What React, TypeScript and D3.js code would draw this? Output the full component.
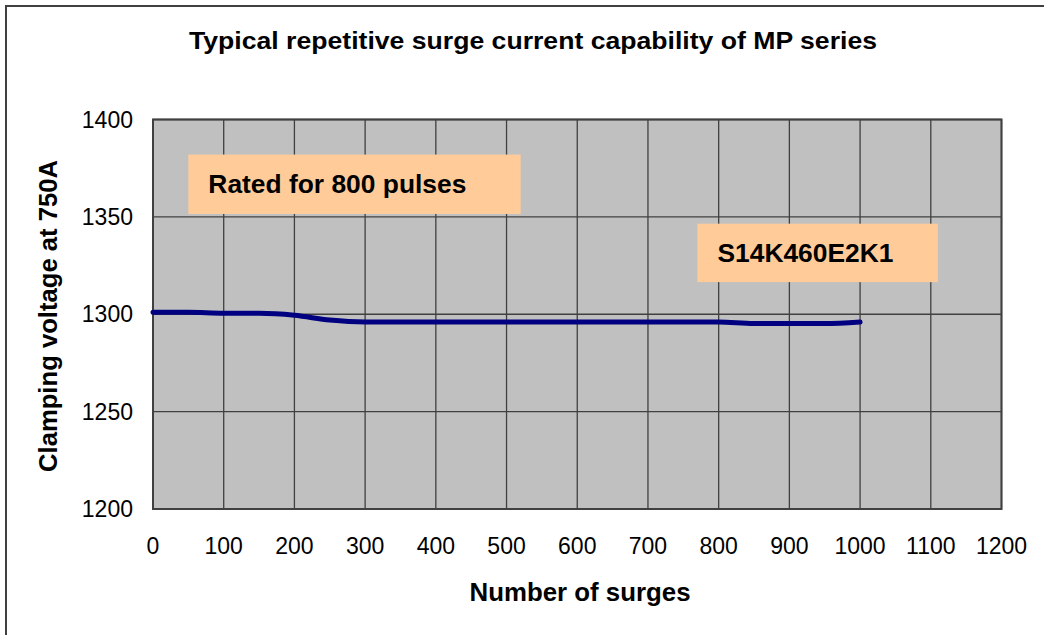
import * as d3 from 'd3';
import React, { useRef, useEffect } from 'react';

// surges vs clamping voltage
const surges = [0, 50, 100, 150, 200, 250, 300, 400, 500, 600, 700, 800, 850, 900, 950, 1000];
const clampVoltage = [1301, 1301, 1300.5, 1300.5, 1299.5, 1297, 1296, 1296, 1296, 1296, 1296, 1296, 1295.2, 1295.2, 1295.2, 1296];

const xTicks = d3.range(0, 1201, 100);
const yTicks = [1200, 1250, 1300, 1350, 1400];

const title = 'Typical repetitive surge current capability of MP series';
const xLabel = 'Number of surges';
const yLabel = 'Clamping voltage at 750A';
const notes = [
  { text: 'Rated for 800 pulses', x0: 50, x1: 520, y0: 1382, y1: 1351.5, len: 258 },
  { text: 'S14K460E2K1', x0: 770, x1: 1110, y0: 1346.5, y1: 1316.5, len: 176 },
];

const W = 1044;
const H = 635;
const plot = { left: 153, top: 119.5, right: 1001.5, bottom: 509 };

const font = 'Arial, "Liberation Sans", sans-serif';

const App = () => {
  const svgRef = useRef<SVGSVGElement>(null);

  useEffect(() => {
    if (!svgRef.current) return;
    const svg = d3.select(svgRef.current);
    svg.selectAll('*').remove();

    const x = d3.scaleLinear().domain([0, 1200]).range([plot.left, plot.right]);
    const y = d3.scaleLinear().domain([1200, 1400]).range([plot.bottom, plot.top]);

    // outer frame
    svg.append('rect')
      .attr('x', 6).attr('y', 6)
      .attr('width', W + 20).attr('height', H + 20)
      .attr('fill', 'white')
      .attr('stroke', '#404040').attr('stroke-width', 2);

    // plot background
    svg.append('rect')
      .attr('x', plot.left).attr('y', plot.top)
      .attr('width', plot.right - plot.left).attr('height', plot.bottom - plot.top)
      .attr('fill', '#c0c0c0');

    // grid
    svg.append('g').selectAll('line').data(xTicks).join('line')
      .attr('x1', d => x(d)).attr('x2', d => x(d))
      .attr('y1', plot.top).attr('y2', plot.bottom)
      .attr('stroke', '#404040').attr('stroke-width', 1.3);
    svg.append('g').selectAll('line').data(yTicks).join('line')
      .attr('x1', plot.left).attr('x2', plot.right)
      .attr('y1', d => y(d)).attr('y2', d => y(d))
      .attr('stroke', '#404040').attr('stroke-width', 1.3);

    svg.append('rect')
      .attr('x', plot.left).attr('y', plot.top)
      .attr('width', plot.right - plot.left).attr('height', plot.bottom - plot.top)
      .attr('fill', 'none')
      .attr('stroke', '#404040').attr('stroke-width', 2);

    // annotation boxes
    const boxes = svg.append('g').selectAll('g').data(notes).join('g');
    boxes.append('rect')
      .attr('x', d => x(d.x0)).attr('y', d => y(d.y0))
      .attr('width', d => x(d.x1) - x(d.x0)).attr('height', d => y(d.y1) - y(d.y0))
      .attr('fill', '#ffcc99');
    boxes.append('text')
      .attr('x', d => x(d.x0) + 20)
      .attr('y', d => (y(d.y0) + y(d.y1)) / 2 + 9)
      .attr('font-family', font).attr('font-weight', 'bold').attr('font-size', 25)
      .attr('textLength', d => d.len).attr('lengthAdjust', 'spacingAndGlyphs')
      .attr('fill', '#000')
      .text(d => d.text);

    // series line
    const line = d3.line<number>()
      .x((_, i) => x(surges[i]))
      .y(d => y(d))
      .curve(d3.curveMonotoneX);
    svg.append('path')
      .datum(clampVoltage)
      .attr('d', line)
      .attr('fill', 'none')
      .attr('stroke', '#000080')
      .attr('stroke-width', 5)
      .attr('stroke-linecap', 'round');

    // tick labels
    svg.append('g').selectAll('text').data(xTicks).join('text')
      .attr('x', d => x(d)).attr('y', 554)
      .attr('text-anchor', 'middle')
      .attr('font-family', font).attr('font-size', 23)
      .text(d => d);
    svg.append('g').selectAll('text').data(yTicks).join('text')
      .attr('x', 133).attr('y', d => y(d) + 8)
      .attr('text-anchor', 'end')
      .attr('font-family', font).attr('font-size', 23)
      .text(d => d);

    // titles
    svg.append('text')
      .attr('x', 533).attr('y', 49)
      .attr('text-anchor', 'middle')
      .attr('font-family', font).attr('font-weight', 'bold').attr('font-size', 24)
      .attr('textLength', 688).attr('lengthAdjust', 'spacingAndGlyphs')
      .text(title);
    svg.append('text')
      .attr('x', 580).attr('y', 601)
      .attr('text-anchor', 'middle')
      .attr('font-family', font).attr('font-weight', 'bold').attr('font-size', 25)
      .attr('textLength', 221).attr('lengthAdjust', 'spacingAndGlyphs')
      .text(xLabel);
    svg.append('text')
      .attr('transform', `translate(57, 316) rotate(-90)`)
      .attr('text-anchor', 'middle')
      .attr('font-family', font).attr('font-weight', 'bold').attr('font-size', 25)
      .attr('textLength', 312).attr('lengthAdjust', 'spacingAndGlyphs')
      .text(yLabel);
  }, []);

  return (
    <svg
      ref={svgRef}
      width={W}
      height={H}
      style={{ position: 'absolute', left: 0, top: 0, display: 'block' }}
    />
  );
};

export default App;
